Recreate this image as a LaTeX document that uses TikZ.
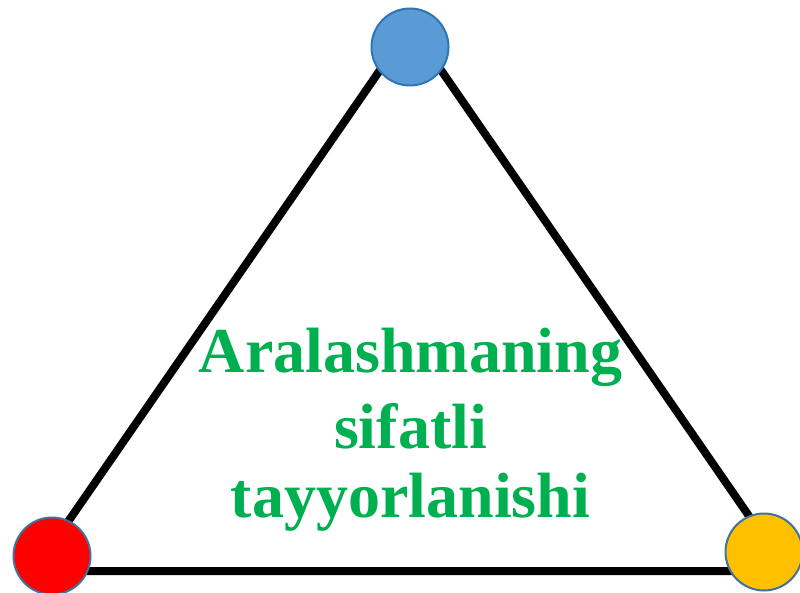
\documentclass[tikz,border=0pt]{standalone}
\usepackage{fontspec}
\setmainfont{Liberation Serif}
\definecolor{topfill}{HTML}{5B9BD5}
\definecolor{topline}{HTML}{2E75B6}
\definecolor{dotline}{HTML}{41719C}
\definecolor{redfill}{HTML}{FF0000}
\definecolor{goldfill}{HTML}{FFC000}
\definecolor{txtgreen}{HTML}{00B050}
\begin{document}
\begin{tikzpicture}[x=1pt,y=-1pt,
  vertexdot/.style={circle, minimum size=77pt, inner sep=0pt, line width=2pt},
  edge/.style={line width=8pt, line join=miter},
  label/.style={anchor=base, text=txtgreen, font=\bfseries\fontsize{64}{72}\selectfont, inner sep=0pt}]
\useasboundingbox (0,0) rectangle (800,593);
\coordinate (apex) at (410.5,26);
\coordinate (bl) at (34,571);
\coordinate (br) at (787,571);
\draw[edge] (apex) -- (bl) -- (br) -- cycle;
\node[vertexdot, fill=topfill, draw=topline] (top) at (410,47) {};
\node[vertexdot, fill=redfill, draw=dotline] (left) at (52,556) {};
\node[vertexdot, fill=goldfill, draw=dotline] (right) at (764,552) {};
\node[label] (l1) at (410.5,372) {Aralashmaning};
\node[label] (l2) at (410.5,448) {sifatli};
\node[label] (l3) at (410.5,517) {tayyorlanishi};
\end{tikzpicture}
\end{document}
